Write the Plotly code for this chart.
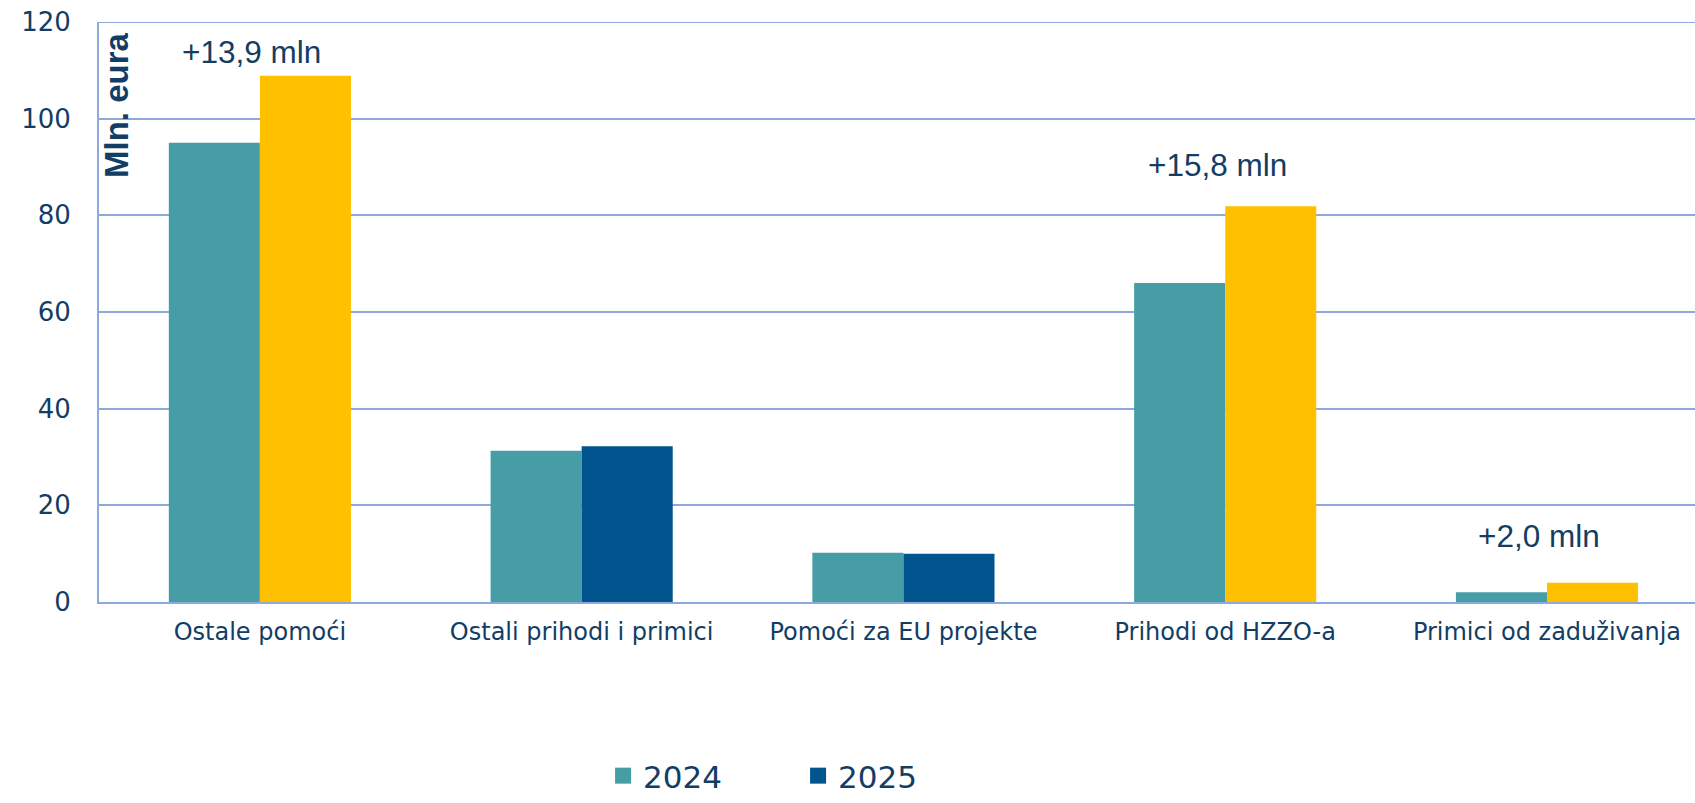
import plotly.graph_objects as go

categories = ["Ostale pomoći", "Ostali prihodi i primici", "Pomoći za EU projekte",
              "Prihodi od HZZO-a", "Primici od zaduživanja"]
values_2024 = [95.0, 31.3, 10.2, 66.0, 2.0]
values_2025 = [108.9, 32.2, 10.0, 81.9, 4.0]
series_names = ["2024", "2025"]
change_labels = ["+13,9 mln", None, None, "+15,8 mln", "+2,0 mln"]
y_ticks = [0, 20, 40, 60, 80, 100, 120]

# styles
C2024 = "#469DA6"
C2025 = "#02548F"
CHIGH = "#FFC000"
highlight = [True, False, False, True, True]
colors_2025 = [CHIGH if h else C2025 for h in highlight]
TEXT = "#123D64"
GRID = "#8EA9DB"
ann_y = [113.7, None, None, 90.4, 13.6]

fig = go.Figure()
fig.add_trace(go.Bar(x=categories, y=values_2024, name=series_names[0],
                     marker=dict(color=C2024, line=dict(width=0)), showlegend=False))
fig.add_trace(go.Bar(x=categories, y=values_2025, name=series_names[1],
                     marker=dict(color=colors_2025, line=dict(width=0)), showlegend=False))
# legend entries
for nm, col in zip(series_names, [C2024, C2025]):
    fig.add_trace(go.Scatter(x=[None], y=[None], mode="markers", name=nm,
                             marker=dict(symbol="square", size=18, color=col)))

for i, (lab, yy) in enumerate(zip(change_labels, ann_y)):
    if lab:
        fig.add_annotation(x=categories[i], y=yy, text=lab, showarrow=False,
                           xshift=-8, font=dict(family="Liberation Sans, Arial", size=31.5, color=TEXT))

fig.add_annotation(xref="paper", yref="paper", x=0.0113, y=0.857, text="<b>Mln. eura</b>",
                   textangle=-90, showarrow=False, xanchor="center", yanchor="middle",
                   font=dict(family="Liberation Sans, Arial", size=33, color=TEXT))

# top gridline at 120 (plotly omits grid at range edge)
fig.add_shape(type="line", xref="paper", yref="y", x0=0, x1=1, y0=y_ticks[-1], y1=y_ticks[-1],
              line=dict(color=GRID, width=2))

fig.update_layout(
    width=1695, height=803,
    margin=dict(l=99, r=0, t=22, b=201),
    paper_bgcolor="white", plot_bgcolor="white",
    barmode="group", bargap=0.434, bargroupgap=0,
    font=dict(family="DejaVu Sans, Verdana", color=TEXT),
    legend=dict(orientation="h", xref="container", yref="container",
                x=0.3558, xanchor="left", y=0.0, yanchor="bottom",
                font=dict(size=31, color=TEXT), entrywidth=150, entrywidthmode="pixels",
                bgcolor="rgba(0,0,0,0)"),
    xaxis=dict(range=[-0.5, 4.46], showgrid=False, showline=True, linecolor=GRID, linewidth=2,
               tickfont=dict(size=24, color=TEXT), ticklabelstandoff=7, zeroline=False),
    yaxis=dict(range=[0, 120], tickvals=y_ticks, showgrid=True, gridcolor=GRID, gridwidth=2,
               showline=True, linecolor=GRID, linewidth=2, zeroline=False,
               tickfont=dict(size=26, color=TEXT), ticklabelstandoff=21),
)

fig.write_html("out.html", config={"displayModeBar": False},
               post_script="document.body.style.margin='0px';document.body.style.overflow='hidden';")
